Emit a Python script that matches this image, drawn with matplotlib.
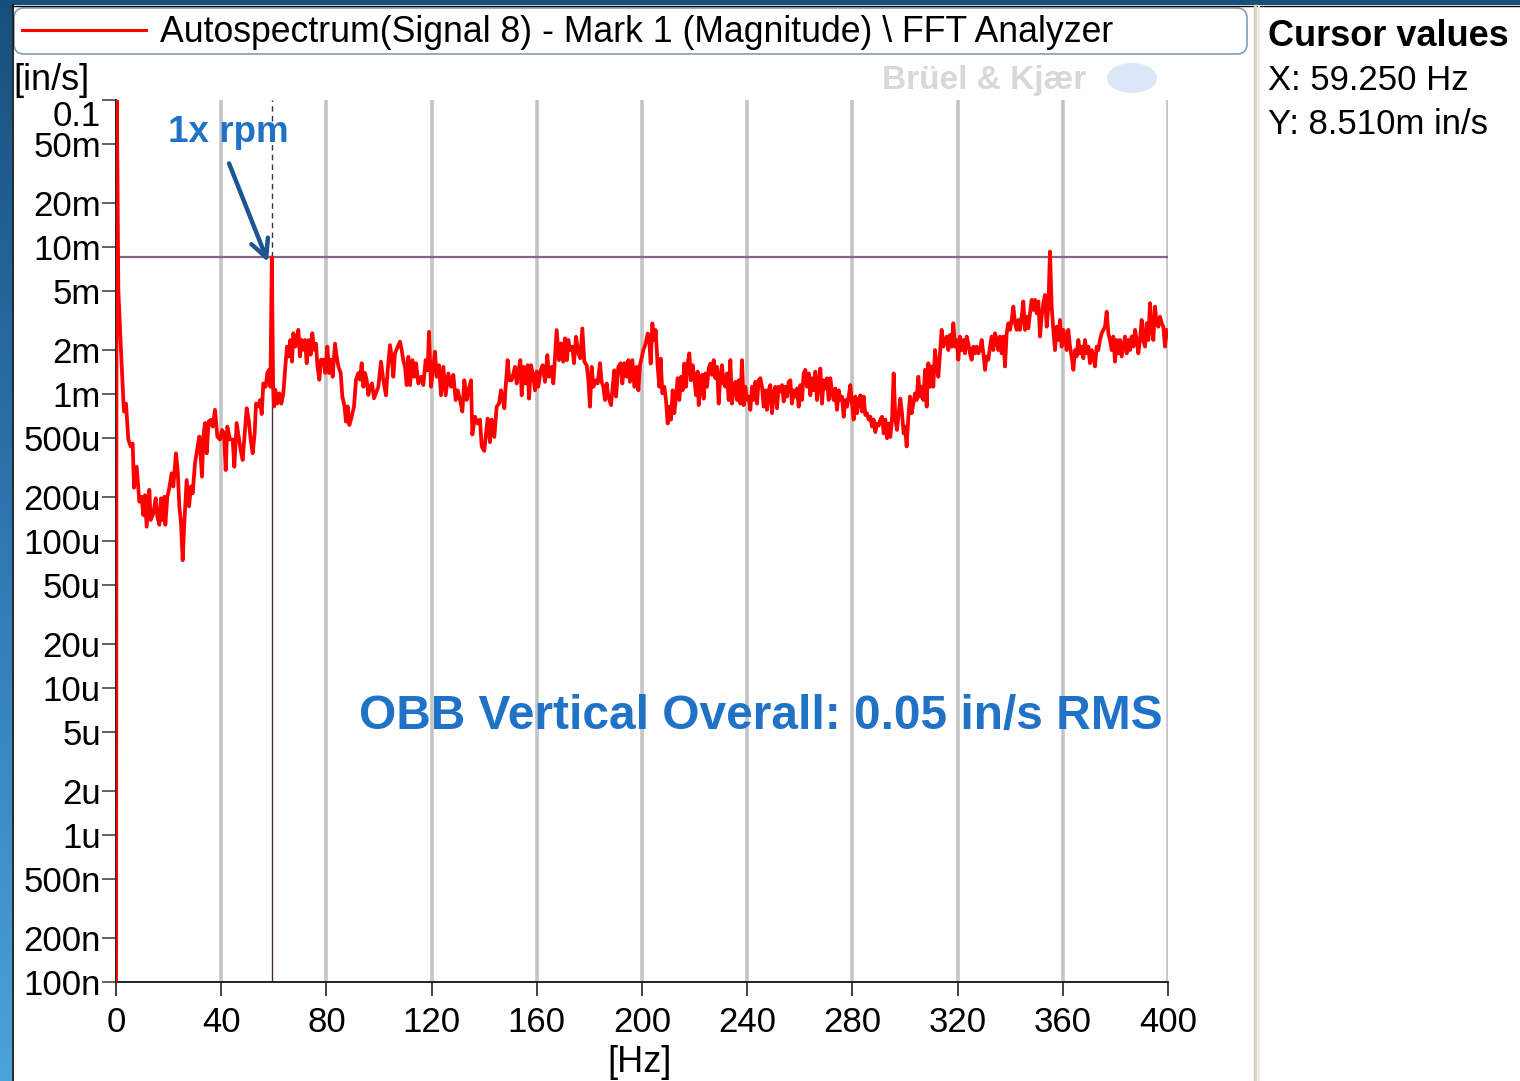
import numpy as np
import matplotlib
matplotlib.use("Agg")
import matplotlib.pyplot as plt
from matplotlib.patches import FancyBboxPatch, Rectangle, Ellipse
from matplotlib.transforms import IdentityTransform
from matplotlib.lines import Line2D
from matplotlib.colors import LinearSegmentedColormap
from matplotlib.ticker import NullLocator

plt.rcParams['font.family'] = ['Liberation Sans', 'DejaVu Sans']

# Autospectrum (magnitude), frequency in Hz, velocity in milli in/s
freq_a = [0, 0.25, 0.89, 1.78, 2.79, 3.04, 3.80, 4.69, 5.58, 6.34,
          6.85, 7.86, 8.87, 9.76, 10.39, 11.03, 11.66, 12.68, 13.18, 14.2,
          15.08, 15.72, 16.48, 17.11, 17.75, 18.38, 18.76, 19.52, 20.28, 21.17,
          21.8, 22.8, 23.45, 24.08, 24.72, 25.35, 25.98, 26.87, 27.76, 28.52,
          29.15, 30.04, 30.93, 31.69, 32.7, 33.21, 33.84, 34.48, 35.24, 36.0,
          36.76, 37.64, 38.53, 39.55, 40.3, 41.07, 41.7, 42.33, 43.35, 44.36,
          44.99, 45.88, 46.64, 47.4, 48.16, 49.05, 49.68, 50.45, 51.2, 51.97,
          52.73, 53.23, 54.12, 54.75, 55.39, 56.02, 56.91, 57.54, 58.18, 58.7,
          59.25, 59.75, 60.1, 60.58, 61.34, 62.1, 62.87, 63.63, 64.39, 65.02,
          65.65, 66.29, 66.92, 67.43, 68.19, 68.7, 69.33, 69.96, 70.6, 71.23,
          71.86, 72.5, 73.26, 74.02, 74.65, 75.29, 76.05, 76.55, 77.31, 77.95,
          78.84, 79.6, 80.36, 80.99, 81.75, 82.39, 83.27, 83.91, 84.54, 85.43,
          86.06, 86.82, 87.45, 88.09, 88.72, 89.61, 90.5, 91.26, 92.14, 92.78,
          93.41, 94.04, 94.68, 95.31, 95.94, 96.58, 97.34, 98.1]
vel_a = [0.00003, 150, 5.1, 2.2, 0.91, 0.76, 0.86, 0.49, 0.44, 0.46,
         0.23, 0.32, 0.185, 0.20, 0.150, 0.205, 0.125, 0.223, 0.139, 0.154,
         0.195, 0.147, 0.129, 0.195, 0.139, 0.20, 0.129, 0.20, 0.23, 0.289,
         0.235, 0.395, 0.304, 0.172, 0.133, 0.074, 0.133, 0.26, 0.172, 0.235,
         0.211, 0.338, 0.427, 0.513, 0.274, 0.513, 0.634, 0.395, 0.649, 0.667,
         0.60, 0.78, 0.513, 0.49, 0.569, 0.541, 0.304, 0.60, 0.49, 0.49,
         0.32, 0.634, 0.513, 0.416, 0.356, 0.569, 0.80, 0.667, 0.49, 0.395,
         0.541, 0.86, 0.823, 0.91, 0.73, 1.18, 1.12, 1.39, 1.46, 1.12,
         8.51, 1.12, 0.823, 1.07, 0.86, 1.01, 0.86, 1.01, 1.54, 2.10,
         1.80, 2.33, 1.66, 2.59, 2.10, 2.33, 2.73, 1.80, 2.33, 2.0,
         2.33, 1.62, 2.33, 1.85, 2.59, 2.0, 2.2, 1.58, 1.25, 1.71,
         1.71, 1.39, 2.10, 1.39, 1.71, 1.31, 2.2, 1.80, 1.54, 1.39,
         0.96, 0.84, 0.649, 0.823, 0.615, 0.70, 0.823, 1.25, 1.39, 1.25,
         1.62, 1.12, 1.39, 1.25, 0.985, 1.12, 1.18, 0.935]

freq_b = [99.75, 100.76, 101.65, 102.66, 103.3, 104.18, 104.82, 105.45, 106.08, 107.1,
          107.99, 108.62, 109.25, 109.89, 110.52, 111.15, 111.79, 112.68, 113.44, 114.07,
          114.96, 115.97, 116.86, 117.74, 118.5, 119.01, 119.77, 120.66, 121.29, 121.93,
          122.81, 123.58, 124.46, 125.35, 126.36, 127.38, 128.26, 129.15, 129.91, 130.8,
          131.69, 132.45, 133.33, 134.22, 134.98, 135.49, 136.5, 137.52, 138.4, 139.04,
          140.05, 140.69, 141.32, 142.21, 142.84, 143.85, 144.74, 145.63, 146.39, 147.02,
          147.66, 148.16, 148.92, 149.56, 150.44, 151.08, 151.71, 152.35, 152.98, 153.74,
          154.25, 155.01, 155.77, 156.53, 157.04, 157.8, 158.68, 159.32, 159.95, 160.58,
          161.47, 162.23, 163.12, 164.01, 164.64, 165.65, 166.29, 166.92, 167.55, 168.44,
          169.2, 170.09, 170.72, 171.48, 171.99, 172.62, 173.51, 174.15, 174.91, 175.79,
          176.55, 177.31, 178.07, 178.96, 179.6, 180.23, 180.86, 181.5, 182.38, 183.14,
          184.03, 184.66, 185.3, 185.93, 186.57, 187.2, 188.21, 188.85, 189.48, 190.12,
          191.0, 191.89, 192.52, 193.28, 194.17, 194.81, 195.44, 196.33, 197.09, 197.97,
          198.61, 199.24, 200.51, 201.4, 202.16]
vel_b = [1.12, 1.66, 1.24, 0.98, 1.45, 2.15, 1.79, 1.31, 1.89, 2.10,
         2.27, 1.99, 1.70, 1.53, 1.15, 1.79, 1.15, 1.70, 1.31, 1.62,
         1.18, 1.31, 1.15, 1.70, 1.45, 2.65, 1.12, 1.53, 1.94, 1.31,
         1.57, 0.98, 1.53, 0.98, 1.38, 1.12, 1.35, 0.91, 1.06, 0.91,
         0.76, 1.24, 0.91, 1.09, 1.24, 0.53, 0.70, 0.63, 0.67, 0.44,
         0.41, 0.54, 0.68, 0.47, 0.67, 0.51, 0.82, 0.86, 1.06, 0.93,
         0.80, 1.12, 1.70, 1.24, 1.24, 1.38, 1.53, 1.18, 1.42, 1.70,
         0.98, 1.53, 1.18, 1.57, 0.93, 1.57, 1.31, 1.06, 1.42, 1.12,
         1.45, 1.57, 1.21, 1.84, 1.31, 1.53, 1.18, 1.79, 2.72, 1.70,
         2.21, 1.66, 2.39, 1.70, 2.33, 1.99, 2.10, 1.62, 2.45, 1.89,
         1.75, 2.79, 1.66, 1.57, 1.24, 0.82, 1.53, 1.12, 1.24, 1.18,
         1.62, 1.21, 1.12, 0.91, 1.18, 0.96, 0.84, 1.12, 1.45, 0.96,
         1.53, 1.62, 1.18, 1.62, 1.31, 1.70, 1.21, 1.70, 1.12, 1.53,
         1.06, 1.57, 1.99, 2.21, 2.58]

freq_c = [202.66, 203.3, 203.93, 204.69, 205.2, 205.96, 206.59, 207.1, 207.73, 208.49,
          209.12, 209.76, 210.39, 211.03, 211.66, 212.29, 212.93, 213.56, 214.19, 214.83,
          215.46, 216.1, 216.73, 217.36, 218.0, 218.63, 219.26, 219.9, 220.53, 221.17,
          221.55, 222.18, 222.81, 223.45, 224.08, 224.71, 225.35, 225.98, 226.61, 227.25,
          227.88, 228.52, 229.15, 229.78, 230.42, 231.05, 231.68, 232.32, 232.95, 233.59,
          234.22, 234.85, 235.49, 236.12, 236.75, 237.39, 238.02, 238.66, 239.29, 239.92,
          240.56, 241.19, 241.82, 242.46, 243.09, 243.73, 244.36, 244.99, 245.63, 246.26,
          246.89, 247.53, 248.16, 248.8, 249.43, 250.06, 250.7, 251.33, 251.96, 252.6,
          253.23, 253.87, 254.5, 255.13, 255.77, 256.4, 257.03, 257.67, 258.3, 258.93,
          259.57, 260.2, 260.84, 261.47, 262.1, 262.74, 263.37, 264.0, 264.64, 265.27,
          265.91, 266.54, 267.17, 267.81, 268.44, 269.07, 269.71, 270.34, 270.98, 271.61,
          272.24, 272.88, 273.51, 274.14, 274.78, 275.41, 276.05, 276.68, 277.31, 277.95,
          278.58, 279.21, 279.85, 280.48, 281.12, 281.75, 282.38, 283.02, 283.65, 284.28,
          284.92, 285.55, 286.19, 286.82, 287.45, 288.09, 288.72, 289.35, 289.99, 290.62,
          291.26, 291.89, 292.52, 293.16, 293.79, 294.42, 295.06, 295.69, 296.33, 296.96,
          297.59, 298.23, 298.86, 299.49]
vel_c = [2.52, 1.61, 3.02, 2.33, 2.72, 1.53, 1.12, 1.74, 1.01, 1.12,
         0.91, 0.63, 0.82, 0.67, 1.06, 0.74, 0.96, 1.28, 0.91, 1.31,
         1.06, 1.61, 1.12, 1.61, 1.89, 1.24, 1.57, 1.28, 0.98, 1.42,
         0.84, 1.15, 1.35, 0.93, 1.38, 1.12, 1.49, 1.61, 1.35, 1.70,
         1.28, 1.53, 0.86, 1.31, 1.57, 1.18, 1.12, 1.38, 0.91, 1.70,
         0.86, 1.12, 1.21, 0.91, 1.24, 0.86, 1.70, 0.84, 1.12, 0.91,
         0.96, 0.78, 1.12, 0.91, 1.21, 0.86, 1.24, 1.28, 1.12, 0.82,
         1.06, 0.78, 1.06, 1.15, 0.74, 1.01, 1.12, 0.80, 1.12, 1.04,
         1.15, 0.89, 1.12, 0.96, 1.21, 1.24, 0.86, 1.06, 0.96, 1.09,
         0.82, 1.15, 0.91, 1.38, 1.46, 1.12, 1.38, 0.98, 1.28, 1.06,
         1.42, 0.91, 1.18, 1.49, 0.86, 1.24, 1.09, 1.28, 0.91, 1.28,
         1.04, 0.91, 1.09, 0.78, 1.06, 0.91, 0.96, 0.70, 0.91, 0.82,
         0.96, 1.15, 0.86, 0.67, 0.96, 0.74, 0.91, 0.98, 0.76, 0.96,
         0.72, 0.74, 0.67, 0.70, 0.60, 0.67, 0.55, 0.63, 0.61, 0.67,
         0.70, 0.54, 0.67, 0.50, 0.63, 0.51, 0.67, 1.38, 0.67, 0.57,
         0.74, 0.93, 0.74, 0.54]

freq_d = [300.0, 300.63, 301.27, 301.9, 302.53, 303.17, 303.8, 304.44, 305.07, 305.7,
          306.34, 306.97, 307.6, 308.24, 308.87, 309.51, 310.14, 310.77, 311.41, 312.04,
          312.67, 313.31, 313.94, 314.58, 315.21, 315.84, 316.48, 317.11, 317.74, 318.38,
          319.01, 319.65, 320.28, 320.91, 321.55, 322.18, 322.81, 323.45, 324.08, 324.71,
          325.35, 325.98, 326.62, 327.25, 327.88, 328.52, 329.15, 329.78, 330.42, 331.05,
          331.69, 332.32, 332.95, 333.59, 334.22, 334.85, 335.49, 336.12, 336.76, 337.39,
          338.02, 338.66, 339.29, 339.92, 340.56, 341.19, 341.83, 342.46, 343.09, 343.73,
          344.36, 344.99, 345.63, 346.26, 346.9, 347.53, 348.16, 348.8, 349.43, 350.06,
          350.7, 351.33, 351.96, 352.6, 353.23, 353.87, 354.5, 355.13, 355.77, 356.4,
          357.03, 357.67, 358.3, 358.94, 359.57, 360.2, 360.84, 361.47, 362.1, 362.74,
          363.37, 364.01, 364.64, 365.27, 365.91, 366.54, 367.17, 367.81, 368.44, 369.07,
          369.71, 370.34, 370.98, 371.61, 372.24, 372.88, 373.51, 374.14, 374.78, 375.41,
          376.05, 376.68, 377.31, 377.95, 378.58, 379.21, 379.85, 380.48, 381.12, 381.75,
          382.38, 383.02, 383.65, 384.28, 384.92, 385.55, 386.19, 386.82, 387.45, 388.09,
          388.72, 389.35, 389.99, 390.62, 391.26, 391.89, 392.52, 393.16, 393.79, 394.42,
          395.06, 395.69, 396.33, 396.96, 397.59, 398.23, 398.86, 399.49, 400.0]
vel_d = [0.60, 0.44, 0.70, 0.96, 0.74, 0.86, 1.01, 0.91, 1.31, 0.96,
         1.12, 0.91, 1.46, 0.82, 1.62, 1.12, 1.54, 1.12, 1.99, 1.54,
         1.31, 1.89, 2.73, 2.10, 2.33, 2.46, 1.99, 2.52, 2.10, 3.03,
         2.10, 2.33, 1.71, 2.46, 1.99, 2.33, 1.89, 2.46, 2.21, 1.89,
         1.71, 2.10, 1.89, 2.10, 1.89, 1.99, 2.33, 1.89, 1.46, 1.80,
         1.71, 2.10, 2.46, 1.99, 2.59, 2.33, 1.99, 2.46, 1.89, 2.46,
         1.54, 2.59, 3.03, 2.73, 3.19, 3.93, 3.03, 2.73, 3.19, 2.73,
         3.36, 4.26, 2.73, 3.36, 2.80, 3.54, 4.37, 3.73, 4.37, 3.54,
         4.26, 2.46, 3.36, 4.15, 4.72, 2.87, 3.93, 9.3, 3.93, 2.73,
         1.99, 2.87, 2.33, 3.19, 2.10, 2.73, 2.46, 1.99, 2.73, 2.10,
         1.80, 1.46, 1.99, 1.80, 2.33, 1.89, 2.10, 1.75, 2.33, 1.89,
         2.10, 1.62, 1.99, 1.80, 1.54, 2.10, 1.99, 2.33, 2.59, 2.73,
         2.87, 3.63, 2.59, 2.33, 1.99, 2.46, 1.66, 2.33, 1.89, 2.33,
         1.80, 2.10, 2.46, 1.89, 2.33, 1.99, 2.46, 2.10, 2.73, 2.33,
         1.89, 2.33, 3.19, 2.33, 2.10, 3.03, 2.33, 4.15, 2.73, 2.33,
         3.93, 3.03, 2.87, 3.36, 3.03, 2.87, 2.10, 2.73, 2.46]

cursor_x = 59.25      # Hz
cursor_y = 8.510e-3   # in/s

y_ticks = [1e-7, 2e-7, 5e-7, 1e-6, 2e-6, 5e-6, 1e-5, 2e-5, 5e-5, 1e-4,
           2e-4, 5e-4, 1e-3, 2e-3, 5e-3, 1e-2, 2e-2, 5e-2, 0.1]
y_labels = ['100n', '200n', '500n', '1u', '2u', '5u', '10u', '20u', '50u', '100u',
            '200u', '500u', '1m', '2m', '5m', '10m', '20m', '50m', '0.1']
x_ticks = [0, 40, 80, 120, 160, 200, 240, 280, 320, 360, 400]

legend_text = 'Autospectrum(Signal 8) - Mark 1 (Magnitude) \\ FFT Analyzer'
overall_text = 'OBB Vertical Overall: 0.05 in/s RMS'


freq = np.concatenate([freq_a, freq_b, freq_c, freq_d])
vel = np.concatenate([vel_a, vel_b, vel_c, vel_d]) * 1e-3
assert len(freq) == len(vel)

W, H = 1520, 1081
fig = plt.figure(figsize=(W / 100, H / 100), dpi=100)
fig.patch.set_facecolor('white')


def fx(px):
    return px / W


def fy(py):
    return 1 - py / H


# window frame: blue strip on the left and on top
gax = fig.add_axes([0, 0, fx(12), 1])
cmap = LinearSegmentedColormap.from_list('frame', ['#174f7c', '#2f78b2', '#4aa2da'])
gax.imshow(np.linspace(0, 1, 256)[:, None], aspect='auto', cmap=cmap)
gax.axis('off')
fig.add_artist(Rectangle((0, fy(5)), 1, 5 / H, transform=fig.transFigure,
                         facecolor='#174f7c', edgecolor='none'))
fig.add_artist(Line2D([fx(12.5), fx(12.5)], [0, fy(5)], transform=fig.transFigure,
                      color='black', lw=1.2))
fig.add_artist(Line2D([fx(12), 1], [fy(5.5), fy(5.5)], transform=fig.transFigure,
                      color='black', lw=1.0))

# right cursor panel divider
fig.add_artist(Line2D([fx(1255), fx(1255)], [0, fy(6)], transform=fig.transFigure,
                      color='#d8d4c4', lw=2.5))
fig.add_artist(Line2D([fx(1258.5), fx(1258.5)], [0, fy(6)], transform=fig.transFigure,
                      color='#ebe8dc', lw=1.5))

# legend box
fig.add_artist(FancyBboxPatch((14, H - 54), 1233, 46,
                              boxstyle='round,pad=0,rounding_size=10',
                              transform=IdentityTransform(),
                              facecolor='white', edgecolor='#7f9db9', lw=1.2))
fig.add_artist(Line2D([fx(22), fx(146)], [fy(30), fy(30)], transform=fig.transFigure,
                      color='red', lw=2.2))
fig.text(fx(160), fy(33), legend_text, fontsize=25.7, va='center', ha='left')

# main axes
ax = fig.add_axes([fx(116), fy(982), (1168 - 116) / W, (982 - 100) / H])
ax.set_yscale('log')
ax.set_xlim(0, 400)
ax.set_ylim(1e-7, 0.1)

ax.axhline(cursor_y, color='#856585', lw=1.6, zorder=2)
ax.plot([cursor_x, cursor_x], [1e-7, cursor_y], color='#4a2a4a', lw=1.0, zorder=2)
ax.plot([cursor_x, cursor_x], [cursor_y, 0.1], color='#4a2a4a', lw=1.0,
        ls=(0, (4, 3)), zorder=2)

ax.plot(freq, vel, color='#ff0000', lw=2.7, zorder=3, solid_joinstyle='round')

ax.set_xticks(x_ticks)
ax.set_xticklabels([str(v) for v in x_ticks])
ax.set_yticks(y_ticks)
ax.set_yticklabels(y_labels)
ax.yaxis.set_minor_locator(NullLocator())
ax.xaxis.set_minor_locator(NullLocator())
ax.get_yticklabels()[-1].set_verticalalignment('top')

ax.tick_params(axis='y', length=10, width=1.3, color='#555555', pad=1, labelsize=25)
ax.tick_params(axis='x', length=10, width=1.3, color='#333333', pad=7, labelsize=25)
ax.grid(axis='x', color='#c4c4c4', lw=2.6, zorder=1)
ax.grid(axis='y', visible=False)
ax.set_axisbelow(True)
for side in ['top', 'right']:
    ax.spines[side].set_visible(False)
ax.spines['left'].set_color('#222222')
ax.spines['left'].set_linewidth(1.4)
ax.spines['bottom'].set_color('#222222')
ax.spines['bottom'].set_linewidth(1.4)

# annotation "1x rpm"
ax.annotate('', xy=(57.8, 7.9e-3), xytext=(43.0, 3.7e-2),
            arrowprops=dict(arrowstyle='->', color='#1d5592', lw=3.2,
                            mutation_scale=32, shrinkA=0, shrinkB=0), zorder=4)
fig.text(fx(168), fy(133), '1x rpm', fontsize=26.5, fontweight='bold',
         color='#1f72c6', va='center', ha='left')
fig.text(fx(1163), fy(716), overall_text, fontsize=34.5, fontweight='bold',
         color='#1f72c6', va='center', ha='right')

# axis units
fig.text(fx(13), fy(80), '[in/s]', fontsize=26, va='center', ha='left')
fig.text(fx(640), fy(1062), '[Hz]', fontsize=26, va='center', ha='center')

# watermark
fig.text(fx(984), fy(80), 'Brüel & Kjær', fontsize=24, fontweight='bold',
         color='#d8d8d8', va='center', ha='center')
fig.add_artist(Ellipse((fx(1132), fy(78)), 50 / W, 30 / H, transform=fig.transFigure,
                       facecolor='#dbe7f6', edgecolor='none'))

# cursor values panel
fig.text(fx(1268), fy(37), 'Cursor values', fontsize=26, fontweight='bold',
         va='center', ha='left')
fig.text(fx(1268), fy(80), 'X: 59.250 Hz', fontsize=25, va='center', ha='left')
fig.text(fx(1268), fy(125), 'Y: 8.510m in/s', fontsize=25, va='center', ha='left')

fig.savefig('out.png', dpi=100)
